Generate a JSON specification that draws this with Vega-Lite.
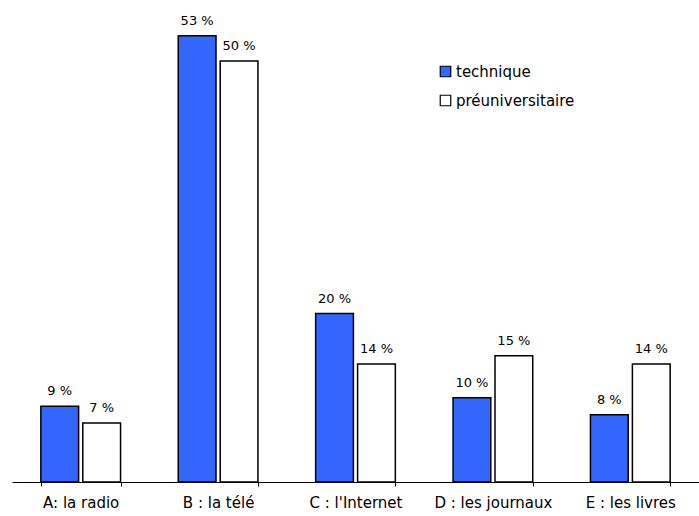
{
  "$schema": "https://vega.github.io/schema/vega-lite/v6.json",
  "width": 687,
  "height": 480,
  "autosize": {"type": "none"},
  "padding": {"left": 12, "top": 2, "right": 0, "bottom": 34},
  "config": {"view": {"stroke": null}, "font": "DejaVu Sans"},
  "data": {
    "values": [
      {"cat": "A: la radio", "grp": "technique", "v": 9, "lbl": "9 %"},
      {"cat": "A: la radio", "grp": "préuniversitaire", "v": 7, "lbl": "7 %"},
      {"cat": "B : la télé", "grp": "technique", "v": 53, "lbl": "53 %"},
      {"cat": "B : la télé", "grp": "préuniversitaire", "v": 50, "lbl": "50 %"},
      {"cat": "C : l'Internet", "grp": "technique", "v": 20, "lbl": "20 %"},
      {"cat": "C : l'Internet", "grp": "préuniversitaire", "v": 14, "lbl": "14 %"},
      {"cat": "D : les journaux", "grp": "technique", "v": 10, "lbl": "10 %"},
      {"cat": "D : les journaux", "grp": "préuniversitaire", "v": 15, "lbl": "15 %"},
      {"cat": "E : les livres", "grp": "technique", "v": 8, "lbl": "8 %"},
      {"cat": "E : les livres", "grp": "préuniversitaire", "v": 14, "lbl": "14 %"}
    ]
  },
  "encoding": {
    "x": {
      "field": "cat", "type": "nominal", "sort": null,
      "scale": {"paddingInner": 0.42, "paddingOuter": 0.21},
      "axis": {
        "title": null, "labelAngle": 0, "tickBand": "extent", "tickSize": 4,
        "tickColor": "black", "domainColor": "black", "labelPadding": 9,
        "labelFontSize": 15, "labelColor": "black", "labelFont": "DejaVu Sans"
      }
    },
    "xOffset": {
      "field": "grp", "type": "nominal", "sort": ["technique", "préuniversitaire"],
      "scale": {"paddingInner": 0.1}
    },
    "y": {"field": "v", "type": "quantitative", "scale": {"domain": [0, 57]}, "axis": null}
  },
  "layer": [
    {
      "mark": {"type": "bar", "stroke": "black", "strokeWidth": 1.5},
      "encoding": {
        "fill": {
          "field": "grp", "type": "nominal",
          "scale": {"domain": ["technique", "préuniversitaire"], "range": ["#3366ff", "white"]},
          "legend": {
            "title": null, "orient": "none", "legendX": 426, "legendY": 62,
            "symbolType": "square", "symbolSize": 110, "symbolStrokeColor": "black",
            "symbolStrokeWidth": 1.2, "labelFontSize": 15, "labelColor": "black",
            "labelFont": "DejaVu Sans", "rowPadding": 12, "labelOffset": 3
          }
        }
      }
    },
    {
      "mark": {"type": "text", "baseline": "bottom", "dy": -8, "fontSize": 13, "color": "black", "font": "DejaVu Sans"},
      "encoding": {"text": {"field": "lbl"}}
    }
  ]
}
